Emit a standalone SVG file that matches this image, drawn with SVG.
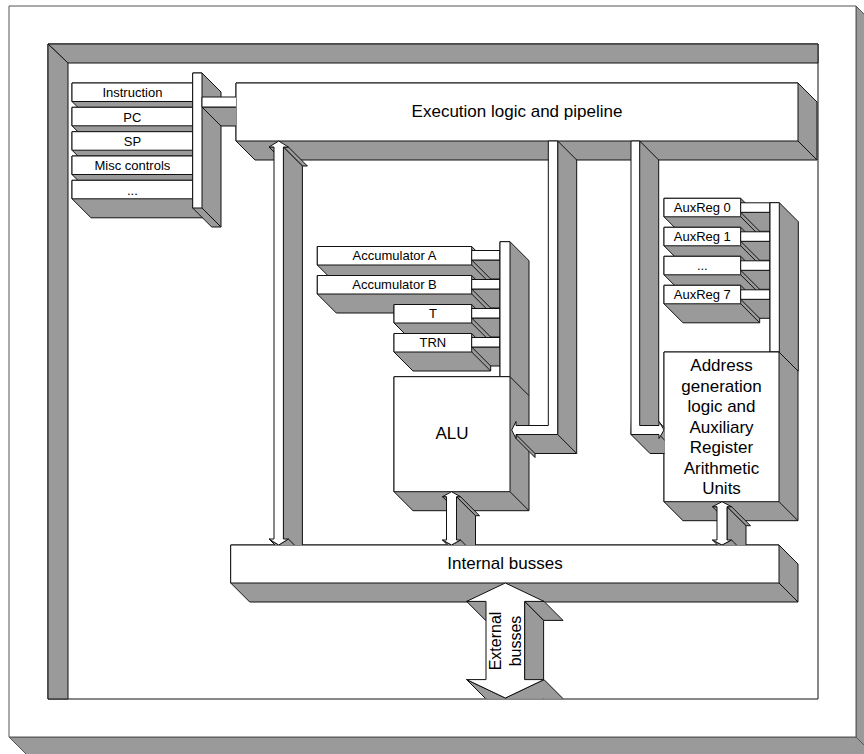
<svg xmlns="http://www.w3.org/2000/svg" width="864" height="754" viewBox="0 0 864 754">
<style>
.g{fill:#9a9a9a;stroke:#111;stroke-width:1;stroke-linejoin:round}
.w{fill:#fff;stroke:#111;stroke-width:1;stroke-linejoin:round}
.ln{fill:none;stroke:#111;stroke-width:1}
text{font-family:"Liberation Sans",Arial,sans-serif;fill:#000;text-anchor:middle}
.s13{font-size:13px}
.s17{font-size:17px}
.s16{font-size:16px}
</style>
<defs>
<clipPath id="clipBus"><rect x="0" y="0" width="864" height="545"/></clipPath>
<clipPath id="clipExec"><rect x="0" y="0" width="236" height="754"/></clipPath>
<clipPath id="clipAddr"><rect x="0" y="0" width="664.5" height="754"/></clipPath>
<clipPath id="clipFrame"><rect x="0" y="0" width="864" height="698.5"/></clipPath>
</defs>

<g id="outer-frame">
<polygon class="g" points="856,6 900,50 900,790 62,790 9,737 856,737" style="stroke:#555"/>
<line class="ln" x1="856" y1="737" x2="880" y2="761" style="stroke:#555"/>
<rect class="w" x="9" y="6" width="847" height="731" style="stroke:#555"/>
</g>

<g id="inner-frame">
<rect class="w" x="48" y="44" width="770" height="655"/>
<polygon class="g" points="48,44 818,44 818,63 68,63"/>
<polygon class="g" points="48,44 68,63 68,699 48,699"/>
</g>

<g id="reg-instruction">
<polygon class="g" points="72,83 192.7,83 211.7,102 211.7,120.5 91,120.5 72,101.5"/>
<rect class="w" x="72" y="83" width="120.7" height="18.5"/>
<text class="s13" x="132.4" y="97.2">Instruction</text>
</g>
<g id="reg-pc">
<polygon class="g" points="72,107.3 192.7,107.3 211.7,126.3 211.7,144.8 91,144.8 72,125.8"/>
<rect class="w" x="72" y="107.3" width="120.7" height="18.5"/>
<text class="s13" x="132.4" y="121.5">PC</text>
</g>
<g id="reg-sp">
<polygon class="g" points="72,131.7 192.7,131.7 211.7,150.7 211.7,169.2 91,169.2 72,150.2"/>
<rect class="w" x="72" y="131.7" width="120.7" height="18.5"/>
<text class="s13" x="132.4" y="145.9">SP</text>
</g>
<g id="reg-misc">
<polygon class="g" points="72,156 192.7,156 211.7,175 211.7,193.5 91,193.5 72,174.5"/>
<rect class="w" x="72" y="156" width="120.7" height="18.5"/>
<text class="s13" x="132.4" y="170.2">Misc controls</text>
</g>
<g id="reg-more">
<polygon class="g" points="72,180.3 192.7,180.3 211.7,199.3 211.7,217.8 91,217.8 72,198.8"/>
<rect class="w" x="72" y="180.3" width="120.7" height="18.5"/>
<text class="s13" x="132.4" y="194.5">...</text>
</g>
<g id="ctrl-reg-bus">
<polygon class="g" points="192.7,73 202,73 221,92 221,227 211.7,227 192.7,208"/>
<line class="ln" x1="202" y1="208" x2="221" y2="227"/>
<rect class="w" x="192.7" y="73" width="9.3" height="135"/>
</g>

<g id="exec">
<polygon class="g" points="236,83 798,83 817,102 817,160 255,160 236,141"/>
<line class="ln" x1="798" y1="141" x2="817" y2="160"/>
<rect class="w" x="236" y="83" width="562" height="58"/>
<text class="s17" x="517" y="117">Execution logic and pipeline</text>
</g>

<g id="acc-a">
<polygon class="g" points="317.3,246.5 471.7,246.5 490.7,265.5 490.7,284 336.3,284 317.3,265"/>
<line class="ln" x1="471.7" y1="265" x2="490.7" y2="284"/>
<rect class="w" x="317.3" y="246.5" width="154.4" height="18.5"/>
<polygon class="g" points="471.7,260 500,260 519,279 490.7,279"/>
<rect class="w" x="471.7" y="250.5" width="28.3" height="9.5"/>
<text class="s13" x="394.5" y="260">Accumulator A</text>
</g>
<g id="acc-b">
<polygon class="g" points="317.3,275.5 471.7,275.5 490.7,294.5 490.7,313 336.3,313 317.3,294"/>
<line class="ln" x1="471.7" y1="294" x2="490.7" y2="313"/>
<rect class="w" x="317.3" y="275.5" width="154.4" height="18.5"/>
<polygon class="g" points="471.7,289 500,289 519,308 490.7,308"/>
<rect class="w" x="471.7" y="279.5" width="28.3" height="9.5"/>
<text class="s13" x="394.5" y="289">Accumulator B</text>
</g>
<g id="reg-t">
<polygon class="g" points="394,304.5 471.7,304.5 490.7,323.5 490.7,342 413,342 394,323"/>
<line class="ln" x1="471.7" y1="323" x2="490.7" y2="342"/>
<rect class="w" x="394" y="304.5" width="77.7" height="18.5"/>
<polygon class="g" points="471.7,318 500,318 519,337 490.7,337"/>
<rect class="w" x="471.7" y="308.5" width="28.3" height="9.5"/>
<text class="s13" x="432.9" y="318">T</text>
</g>
<g id="reg-trn">
<polygon class="g" points="394,333.5 471.7,333.5 490.7,352.5 490.7,371 413,371 394,352"/>
<line class="ln" x1="471.7" y1="352" x2="490.7" y2="371"/>
<rect class="w" x="394" y="333.5" width="77.7" height="18.5"/>
<polygon class="g" points="471.7,347 500,347 519,366 490.7,366"/>
<rect class="w" x="471.7" y="337.5" width="28.3" height="9.5"/>
<text class="s13" x="432.9" y="347">TRN</text>
</g>
<g id="acc-bus">
<polygon class="g" points="500,241.7 510,241.7 529,260.7 529,395.7 519,395.7 500,376.7"/>
<rect class="w" x="500" y="241.7" width="10" height="135"/>
</g>
<g id="alu">
<polygon class="g" points="394,376.7 510,376.7 529,395.7 529,510.7 413,510.7 394,491.7"/>
<line class="ln" x1="510" y1="491.7" x2="529" y2="510.7"/>
<rect class="w" x="394" y="376.7" width="116" height="115"/>
<text class="s17" x="452" y="439">ALU</text>
</g>

<g id="auxreg-0">
<polygon class="g" points="664,198.3 740.7,198.3 759.7,217.3 759.7,235.8 683,235.8 664,216.8"/>
<line class="ln" x1="740.7" y1="216.8" x2="759.7" y2="235.8"/>
<rect class="w" x="664" y="198.3" width="76.7" height="18.5"/>
<polygon class="g" points="740.7,212.3 770,212.3 789,231.3 759.7,231.3"/>
<rect class="w" x="740.7" y="202.8" width="29.3" height="9.5"/>
<text class="s13" x="702.3" y="211.8">AuxReg 0</text>
</g>
<g id="auxreg-1">
<polygon class="g" points="664,227.3 740.7,227.3 759.7,246.3 759.7,264.8 683,264.8 664,245.8"/>
<line class="ln" x1="740.7" y1="245.8" x2="759.7" y2="264.8"/>
<rect class="w" x="664" y="227.3" width="76.7" height="18.5"/>
<polygon class="g" points="740.7,241.3 770,241.3 789,260.3 759.7,260.3"/>
<rect class="w" x="740.7" y="231.8" width="29.3" height="9.5"/>
<text class="s13" x="702.3" y="240.8">AuxReg 1</text>
</g>
<g id="auxreg-more">
<polygon class="g" points="664,256.3 740.7,256.3 759.7,275.3 759.7,293.8 683,293.8 664,274.8"/>
<line class="ln" x1="740.7" y1="274.8" x2="759.7" y2="293.8"/>
<rect class="w" x="664" y="256.3" width="76.7" height="18.5"/>
<polygon class="g" points="740.7,270.3 770,270.3 789,289.3 759.7,289.3"/>
<rect class="w" x="740.7" y="260.8" width="29.3" height="9.5"/>
<text class="s13" x="702.3" y="269.8">...</text>
</g>
<g id="auxreg-7">
<polygon class="g" points="664,285.3 740.7,285.3 759.7,304.3 759.7,322.8 683,322.8 664,303.8"/>
<line class="ln" x1="740.7" y1="303.8" x2="759.7" y2="322.8"/>
<rect class="w" x="664" y="285.3" width="76.7" height="18.5"/>
<polygon class="g" points="740.7,299.3 770,299.3 789,318.3 759.7,318.3"/>
<rect class="w" x="740.7" y="289.8" width="29.3" height="9.5"/>
<text class="s13" x="702.3" y="298.8">AuxReg 7</text>
</g>
<g id="auxreg-bus">
<polygon class="g" points="770,202.7 779.3,202.7 798.3,221.7 798.3,371 789,371 770,352"/>
<rect class="w" x="770" y="202.7" width="9.3" height="149.3"/>
</g>
<g id="addr-gen">
<polygon class="g" points="664,352 779,352 798,371 798,520.7 683,520.7 664,501.7"/>
<line class="ln" x1="779" y1="501.7" x2="798" y2="520.7"/>
<rect class="w" x="664" y="352" width="115" height="149.7"/>
<text class="s17" x="721.5" y="371">Address</text>
<text class="s17" x="721.5" y="391.5">generation</text>
<text class="s17" x="721.5" y="412">logic and</text>
<text class="s17" x="721.5" y="432.5">Auxiliary</text>
<text class="s17" x="721.5" y="453">Register</text>
<text class="s17" x="721.5" y="473.5">Arithmetic</text>
<text class="s17" x="721.5" y="494">Units</text>
</g>

<g id="internal-busses">
<polygon class="g" points="230.7,545 779,545 798,564 798,602 249.7,602 230.7,583"/>
<line class="ln" x1="779" y1="583" x2="798" y2="602"/>
<rect class="w" x="230.7" y="545" width="548.3" height="38"/>
<text class="s17" x="505" y="568.5">Internal busses</text>
</g>

<g id="connectors">
<g id="link-ctrl-exec" clip-path="url(#clipExec)">
<polygon class="g" points="202,107 250,107 269,126 221,126"/>
<rect class="w" x="202" y="97" width="48" height="10"/>
</g>
<g id="arrow-exec-bus" clip-path="url(#clipBus)">
<polygon class="g" points="269,147 274,147 293,166 288,166"/>
<polygon class="g" points="283.4,147 288.4,147 307.4,166 302.4,166"/>
<polygon class="g" points="283.4,147 302.4,166 302.4,558 283.4,539"/>
<polygon class="g" points="269,539 278.7,545 297.7,564 288,558"/>
<polygon class="g" points="288.4,539 278.7,545 297.7,564 307.4,558"/>
<polygon class="w" points="278.7,141 288.4,147 283.4,147 283.4,539 288.4,539 278.7,545 269,539 274,539 274,147 269,147"/>
</g>
<g id="link-exec-alu">
<polygon class="g" points="557.7,141 576.7,160 576.7,453.5 535,453.5 535,457.5 516,438.5 516,434.5 557.7,434.5"/>
<line class="ln" x1="557.7" y1="434.5" x2="576.7" y2="453.5"/>
<line class="ln" x1="516" y1="434.5" x2="535" y2="453.5"/>
<polygon class="w" points="548.3,141 557.7,141 557.7,434.5 516,434.5 516,438.5 511.7,430 516,421.5 516,425.5 548.3,425.5"/>
</g>
<g id="link-exec-addr" clip-path="url(#clipAddr)">
<polygon class="g" points="639.7,141 658.7,160 658.7,421.5 683,449 678,457.5 678,453.5 650,453.5 631,434.5"/>
<line class="ln" x1="659" y1="434.5" x2="678" y2="453.5"/>
<polygon class="w" points="631,141 639.7,141 639.7,425.5 659,425.5 659,421.5 664,430 659,438.5 659,434.5 631,434.5"/>
</g>
<g id="arrow-alu-bus" clip-path="url(#clipBus)">
<polygon class="g" points="442.5,496.7 446.5,496.7 465.5,515.7 461.5,515.7"/>
<polygon class="g" points="456.5,496.7 460.5,496.7 479.5,515.7 475.5,515.7"/>
<polygon class="g" points="456.5,496.7 475.5,515.7 475.5,559 456.5,540"/>
<polygon class="g" points="442.5,540 451.5,545 470.5,564 461.5,559"/>
<polygon class="g" points="460.5,540 451.5,545 470.5,564 479.5,559"/>
<polygon class="w" points="451.5,491.7 460.5,496.7 456.5,496.7 456.5,540 460.5,540 451.5,545 442.5,540 446.5,540 446.5,496.7 442.5,496.7"/>
</g>
<g id="arrow-addr-bus" clip-path="url(#clipBus)">
<polygon class="g" points="712.5,506.7 717,506.7 736,525.7 731.5,525.7"/>
<polygon class="g" points="727,506.7 731.5,506.7 750.5,525.7 746,525.7"/>
<polygon class="g" points="727,506.7 746,525.7 746,559 727,540"/>
<polygon class="g" points="712.5,540 722,545 741,564 731.5,559"/>
<polygon class="g" points="731.5,540 722,545 741,564 750.5,559"/>
<polygon class="w" points="722,501.7 731.5,506.7 727,506.7 727,540 731.5,540 722,545 712.5,540 717,540 717,506.7 712.5,506.7"/>
</g>
<g id="arrow-external" clip-path="url(#clipFrame)">
<polygon class="g" points="466.6,601.4 486,601.4 505,620.4 485.6,620.4"/>
<polygon class="g" points="524.6,601.4 544,601.4 563,620.4 543.6,620.4"/>
<polygon class="g" points="524.6,601.4 543.6,620.4 543.6,698.6 524.6,679.6"/>
<polygon class="g" points="466.6,679.6 505.3,698 524.3,717 485.6,698.6"/>
<polygon class="g" points="544,679.6 505.3,698 524.3,717 563,698.6"/>
<polygon class="w" points="505.3,583 544,601.4 524.6,601.4 524.6,679.6 544,679.6 505.3,698 466.6,679.6 486,679.6 486,601.4 466.6,601.4"/>
</g>
<text class="s16" transform="translate(501,641) rotate(-90)">External</text>
<text class="s16" transform="translate(521,641) rotate(-90)">busses</text>
</g>
</svg>
